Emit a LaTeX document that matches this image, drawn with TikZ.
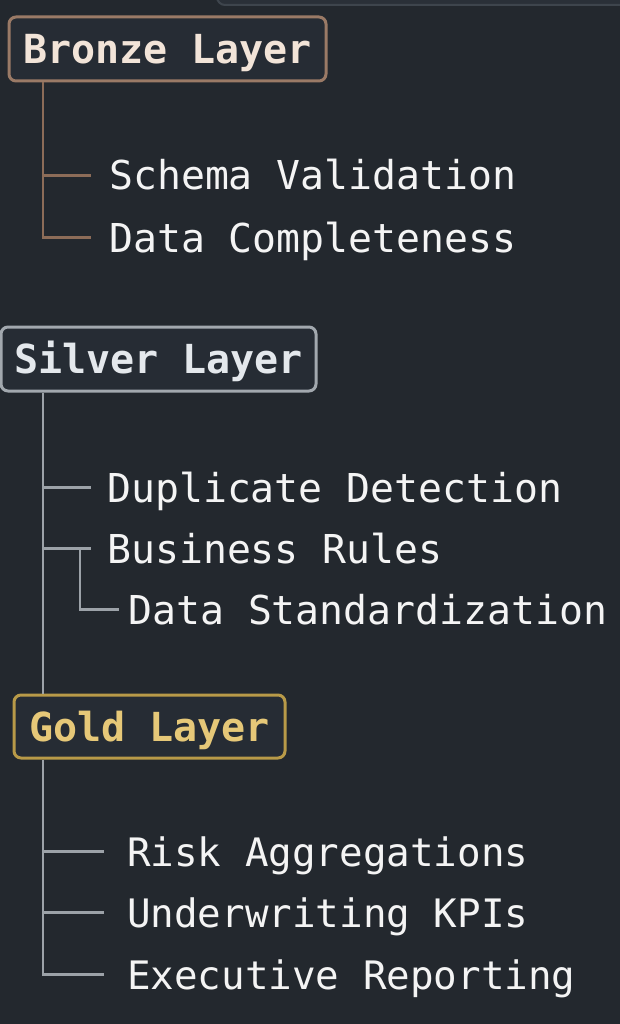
\documentclass[tikz,border=0pt]{standalone}
\usepackage{fontspec}
\setmonofont{DejaVu Sans Mono}
\definecolor{bg}{HTML}{23282E}
\definecolor{boxfill}{HTML}{262C34}
\definecolor{topfill}{HTML}{2A3038}
\definecolor{topedge}{HTML}{3E454D}
\definecolor{bronzeedge}{HTML}{9A7A66}
\definecolor{bronzetext}{HTML}{F2E4D8}
\definecolor{bronzeline}{HTML}{8C6C58}
\definecolor{silveredge}{HTML}{A2A8AE}
\definecolor{silvertext}{HTML}{E4E8EC}
\definecolor{grayline}{HTML}{9CA2A8}
\definecolor{goldedge}{HTML}{B89A48}
\definecolor{goldtext}{HTML}{E6C878}
\definecolor{itemtext}{HTML}{F4F4F4}
\tikzset{
  header/.style={draw=#1, line width=3pt, fill=boxfill, rounded corners=7pt,
    inner sep=0pt, text height=29.2pt, text depth=0pt,
    font=\ttfamily\bfseries\fontsize{40}{40}\selectfont},
  item/.style={anchor=base west, inner sep=0pt, text height=29pt, text depth=0pt,
    text=itemtext, font=\ttfamily\fontsize{39.8}{40}\selectfont},
  golditem/.style={item, font=\ttfamily\fontsize{39.2}{40}\selectfont},
  conn/.style={draw=#1, line width=2.8pt},
}
\begin{document}
\begin{tikzpicture}[x=1pt,y=-1pt]
\useasboundingbox (0,0) rectangle (620,1024);
\fill[bg] (0,0) rectangle (620,1024);
% partial box at top edge
\draw[fill=topfill, draw=topedge, line width=2pt, rounded corners=8pt] (217,-30) rectangle (660,5);

% Bronze
\node[header=bronzeedge, text=bronzetext, minimum width=317pt, minimum height=64pt] (bz) at (167.5,49) {Bronze Layer};
\node[item] (sv) at (109,190) {Schema Validation};
\node[item] (dc) at (109,252) {Data Completeness};
\draw[conn=bronzeline] (bz.south -| 43,0) |- ([xshift=-18pt]dc.west);
\draw[conn=bronzeline] (43,0 |- sv.west) -- ([xshift=-18pt]sv.west);

% Silver
\node[header=silveredge, text=silvertext, minimum width=315pt, minimum height=64pt] (sl) at (158.5,359) {Silver Layer};
\node[item] (dd) at (107,502) {Duplicate Detection};
\node[item] (br) at (107,563) {Business Rules};
\node[item] (ds) at (128,624) {Data Standardization};

% Gold
\node[header=goldedge, text=goldtext, minimum width=271pt, minimum height=63pt] (gl) at (149.5,726.5) {Gold Layer};
\node[golditem] (ra) at (127,866) {Risk Aggregations};
\node[golditem] (uk) at (127,927) {Underwriting KPIs};
\node[golditem] (er) at (127,989) {Executive Reporting};

% Silver connectors
\draw[conn=grayline] (sl.south -| 43,0) -- (gl.north -| 43,0);
\draw[conn=grayline] (43,0 |- dd.west) -- ([xshift=-16pt]dd.west);
\draw[conn=grayline] (43,0 |- br.west) -- ([xshift=-16pt]br.west);
\coordinate (sub) at (80,0 |- br.west);
\draw[conn=grayline] (sub) |- ([xshift=-9pt]ds.west);

% Gold connectors
\draw[conn=grayline] (gl.south -| 43,0) |- ([xshift=-23pt]er.west);
\draw[conn=grayline] (43,0 |- ra.west) -- ([xshift=-23pt]ra.west);
\draw[conn=grayline] (43,0 |- uk.west) -- ([xshift=-23pt]uk.west);
\end{tikzpicture}
\end{document}
